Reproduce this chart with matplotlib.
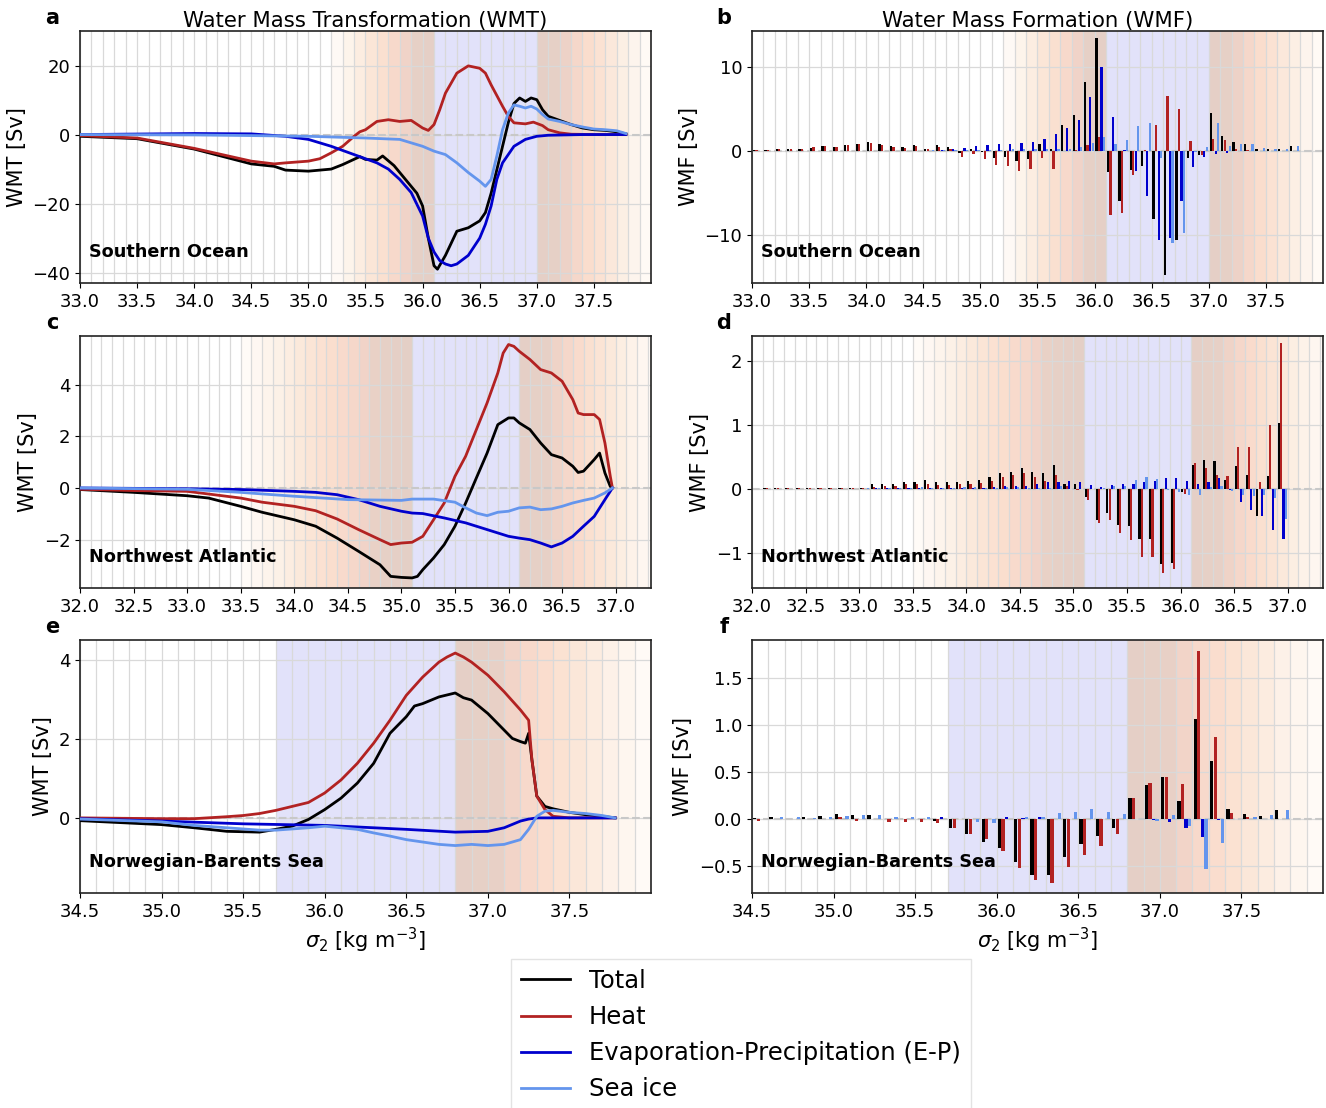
import numpy as np
import matplotlib
matplotlib.use("Agg")
import matplotlib.pyplot as plt
from matplotlib.lines import Line2D
from matplotlib.colors import LinearSegmentedColormap
from matplotlib.ticker import MultipleLocator

# ---------------- DATA ----------------
series_names = ["Total", "Heat", "Evaporation-Precipitation (E-P)", "Sea ice"]
series_colors = ["black", "firebrick", "mediumblue", "cornflowerblue"]
regions = ["Southern Ocean", "Northwest Atlantic", "Norwegian-Barents Sea"]

# --- Southern Ocean WMT curves ---
so_tot_x = [33.0, 33.5, 34.0, 34.5, 34.7, 34.8, 35.0, 35.2, 35.3, 35.45, 35.5, 35.6, 35.65, 35.75, 35.85,
            35.95, 36.0, 36.05, 36.1, 36.13, 36.2, 36.3, 36.4, 36.5, 36.55, 36.6, 36.7, 36.75, 36.8, 36.85,
            36.9, 36.95, 37.0, 37.05, 37.1, 37.2, 37.3, 37.4, 37.5, 37.6, 37.7, 37.78]
so_tot_y = [-0.5, -1.2, -4.2, -8.5, -9.2, -10.3, -10.6, -10.0, -8.7, -6.4, -7.2, -7.4, -6.2, -9.0, -13.0,
            -17.0, -20.7, -30.0, -38.0, -39.0, -35.0, -28.0, -27.0, -25.0, -22.6, -17.0, -3.4, 3.4, 9.0, 10.6,
            9.6, 10.6, 10.1, 7.2, 5.3, 4.1, 2.9, 1.9, 1.4, 1.2, 0.8, 0.2]
so_heat_x = [33.0, 33.5, 34.0, 34.5, 34.7, 34.8, 35.0, 35.1, 35.2, 35.3, 35.4, 35.45, 35.5, 35.6, 35.7,
             35.8, 35.9, 36.0, 36.05, 36.1, 36.15, 36.2, 36.3, 36.4, 36.5, 36.55, 36.6, 36.7, 36.75, 36.8,
             36.9, 36.97, 37.05, 37.1, 37.2, 37.3, 37.5, 37.78]
so_heat_y = [-0.3, -1.0, -4.0, -7.7, -8.5, -8.2, -7.7, -7.0, -5.3, -3.4, -0.5, 0.8, 1.4, 3.8, 4.3,
             3.8, 4.1, 1.9, 1.2, 2.9, 7.2, 12.0, 17.8, 19.9, 19.2, 17.8, 14.4, 8.2, 5.3, 3.4,
             3.1, 3.6, 2.6, 1.4, 0.5, 0.1, 0.0, 0.0]
so_ep_x = [33.0, 34.0, 34.5, 34.8, 35.0, 35.2, 35.4, 35.6, 35.7, 35.8, 35.9, 36.0, 36.05, 36.1, 36.15,
           36.2, 36.25, 36.3, 36.4, 36.5, 36.55, 36.6, 36.65, 36.7, 36.8, 36.9, 37.0, 37.1, 37.4, 37.78]
so_ep_y = [0.0, 0.3, 0.2, -0.5, -1.4, -3.4, -5.8, -8.2, -10.0, -13.0, -16.8, -23.6, -30.0, -34.0, -36.5,
           -37.5, -38.0, -37.5, -35.0, -30.0, -26.0, -20.7, -13.0, -8.2, -3.4, -1.4, -0.5, -0.2, 0.0, 0.0]
so_ice_x = [33.0, 34.0, 35.0, 35.5, 35.8, 36.0, 36.1, 36.2, 36.3, 36.4, 36.5, 36.55, 36.6, 36.65, 36.7,
            36.75, 36.8, 36.85, 36.9, 36.95, 37.0, 37.05, 37.1, 37.2, 37.3, 37.4, 37.5, 37.6, 37.7, 37.78]
so_ice_y = [0.0, -0.1, -0.5, -1.0, -1.4, -3.4, -4.8, -5.8, -8.2, -11.0, -13.5, -15.0, -13.0, -6.2, 1.4,
            6.2, 8.6, 8.2, 7.7, 8.2, 7.4, 5.8, 4.5, 3.8, 2.9, 2.2, 1.6, 1.4, 1.1, 0.3]

# --- Northwest Atlantic WMT curves ---
nwa_tot_x = [32.0, 32.5, 33.0, 33.2, 33.5, 33.7, 34.0, 34.2, 34.4, 34.6, 34.8, 34.9, 35.0, 35.1, 35.15,
             35.2, 35.3, 35.4, 35.5, 35.6, 35.7, 35.8, 35.9, 36.0, 36.05, 36.1, 36.2, 36.3, 36.4, 36.5,
             36.6, 36.65, 36.7, 36.8, 36.85, 36.9, 36.95, 36.97]
nwa_tot_y = [-0.06, -0.17, -0.30, -0.39, -0.71, -0.94, -1.23, -1.48, -1.94, -2.45, -2.97, -3.42, -3.46, -3.48, -3.42,
             -3.16, -2.71, -2.19, -1.48, -0.58, 0.39, 1.35, 2.45, 2.71, 2.71, 2.52, 2.26, 1.74, 1.29, 1.16,
             0.84, 0.60, 0.65, 1.10, 1.35, 0.58, 0.06, 0.0]
nwa_heat_x = [32.0, 32.5, 33.0, 33.5, 33.7, 34.0, 34.2, 34.4, 34.6, 34.8, 34.9, 35.0, 35.1, 35.2, 35.3,
              35.4, 35.5, 35.6, 35.7, 35.8, 35.9, 35.95, 36.0, 36.05, 36.1, 36.2, 36.3, 36.4, 36.5, 36.6,
              36.65, 36.7, 36.8, 36.85, 36.9, 36.95, 36.97]
nwa_heat_y = [-0.05, -0.10, -0.13, -0.39, -0.55, -0.71, -0.88, -1.20, -1.61, -2.00, -2.19, -2.13, -2.10, -1.87, -1.23,
              -0.58, 0.45, 1.23, 2.26, 3.29, 4.45, 5.22, 5.55, 5.48, 5.29, 4.97, 4.58, 4.45, 4.13, 3.42,
              2.90, 2.84, 2.84, 2.65, 1.74, 0.45, 0.0]
nwa_ep_x = [32.0, 33.0, 33.5, 34.0, 34.2, 34.4, 34.6, 34.8, 35.0, 35.1, 35.2, 35.4, 35.6, 35.8, 36.0,
            36.1, 36.2, 36.3, 36.4, 36.5, 36.6, 36.7, 36.8, 36.9, 36.97]
nwa_ep_y = [0.0, -0.03, -0.06, -0.13, -0.17, -0.26, -0.45, -0.71, -0.90, -0.97, -0.99, -1.16, -1.35, -1.61, -1.87,
            -1.94, -2.00, -2.13, -2.28, -2.13, -1.87, -1.48, -1.10, -0.45, 0.0]
nwa_ice_x = [32.0, 33.0, 33.5, 34.0, 34.5, 35.0, 35.1, 35.3, 35.5, 35.6, 35.7, 35.8, 35.9, 36.0, 36.1,
             36.2, 36.3, 36.4, 36.5, 36.6, 36.7, 36.8, 36.9, 36.97]
nwa_ice_y = [0.0, -0.05, -0.17, -0.32, -0.45, -0.48, -0.43, -0.43, -0.55, -0.77, -0.97, -1.07, -0.94, -0.90, -0.77,
             -0.74, -0.84, -0.81, -0.71, -0.58, -0.48, -0.39, -0.19, 0.0]

# --- Norwegian-Barents Sea WMT curves ---
nbs_tot_x = [34.5, 35.0, 35.2, 35.4, 35.6, 35.7, 35.8, 35.9, 36.0, 36.1, 36.2, 36.3, 36.4, 36.5, 36.55,
             36.6, 36.7, 36.8, 36.85, 36.9, 37.0, 37.1, 37.15, 37.2, 37.23, 37.25, 37.27, 37.3, 37.35, 37.4,
             37.5, 37.6, 37.7, 37.78]
nbs_tot_y = [-0.07, -0.17, -0.25, -0.34, -0.36, -0.29, -0.21, -0.04, 0.21, 0.50, 0.88, 1.38, 2.14, 2.56, 2.83,
             2.89, 3.06, 3.16, 3.04, 2.98, 2.64, 2.22, 2.01, 1.93, 1.89, 2.14, 1.47, 0.55, 0.29, 0.23,
             0.14, 0.08, 0.04, 0.0]
nbs_heat_x = [34.5, 35.0, 35.2, 35.4, 35.5, 35.6, 35.7, 35.8, 35.9, 36.0, 36.1, 36.2, 36.3, 36.4, 36.5,
              36.6, 36.7, 36.75, 36.8, 36.85, 36.9, 37.0, 37.1, 37.2, 37.25, 37.27, 37.3, 37.35, 37.4, 37.5,
              37.78]
nbs_heat_y = [0.0, -0.02, -0.02, 0.03, 0.06, 0.11, 0.19, 0.29, 0.39, 0.63, 0.96, 1.38, 1.89, 2.47, 3.10,
              3.56, 3.94, 4.07, 4.17, 4.07, 3.94, 3.61, 3.19, 2.73, 2.47, 1.47, 0.55, 0.21, 0.04, 0.0,
              0.0]
nbs_ep_x = [34.5, 35.0, 35.5, 36.0, 36.5, 36.8, 37.0, 37.1, 37.2, 37.25, 37.3, 37.78]
nbs_ep_y = [-0.02, -0.08, -0.15, -0.19, -0.29, -0.36, -0.34, -0.25, -0.08, -0.03, 0.0, 0.0]
nbs_ice_x = [34.5, 35.0, 35.2, 35.4, 35.6, 35.7, 35.8, 35.9, 36.0, 36.1, 36.2, 36.3, 36.4, 36.5, 36.6,
             36.7, 36.8, 36.9, 37.0, 37.1, 37.2, 37.25, 37.3, 37.35, 37.4, 37.5, 37.6, 37.7, 37.78]
nbs_ice_y = [-0.03, -0.10, -0.19, -0.25, -0.31, -0.31, -0.28, -0.25, -0.21, -0.25, -0.29, -0.38, -0.46, -0.55, -0.61,
             -0.67, -0.70, -0.67, -0.70, -0.67, -0.55, -0.29, 0.04, 0.17, 0.19, 0.14, 0.11, 0.06, 0.0]

# --- WMF bars (bin left edges, bin width 0.1) ---
so_bins = [33.0, 33.1, 33.2, 33.3, 33.4, 33.5, 33.6, 33.7, 33.8, 33.9, 34.0, 34.1, 34.2, 34.3, 34.4, 34.5,
           34.6, 34.7, 34.8, 34.9, 35.0, 35.1, 35.2, 35.3, 35.4, 35.5, 35.6, 35.7, 35.8, 35.9, 36.0, 36.1,
           36.2, 36.3, 36.4, 36.5, 36.6, 36.7, 36.8, 36.9, 37.0, 37.1, 37.2, 37.3, 37.4, 37.5, 37.6, 37.7]
so_wmf_tot = [0.1, 0.1, 0.2, 0.25, 0.3, 0.4, 0.6, 0.5, 0.7, 0.8, 1.1, 0.8, 0.6, 0.5, 0.7, 0.3,
              0.7, 0.5, -0.2, 0.3, -0.1, -0.8, -0.7, -1.2, -0.9, 0.9, 0.2, 3.1, 4.3, 8.2, 13.5, -2.5,
              -5.9, -2.2, -1.8, -8.1, -14.7, -10.6, -0.8, -0.5, 4.5, 1.8, 1.1, 0.8, 0.3, 0.3, 0.3, 0.6]
so_wmf_heat = [0.1, 0.1, 0.2, 0.2, 0.3, 0.45, 0.6, 0.5, 0.7, 0.8, 1.0, 0.7, 0.5, 0.4, 0.6, 0.2,
               0.5, 0.3, -0.7, -0.3, -0.9, -1.7, -1.8, -2.4, -2.1, -0.8, -2.1, 0.0, 0.1, 0.7, 1.7, -7.6,
               -7.4, -2.8, 0.1, 3.1, 6.6, 5.0, 1.2, -0.5, 1.5, 1.3, 0.3, 0.1, 0.0, 0.0, 0.0, 0.0]
so_wmf_ep = [0.0, 0.0, 0.0, 0.0, 0.0, 0.0, 0.0, 0.0, 0.0, 0.0, 0.0, 0.0, 0.0, 0.0, 0.0, 0.0,
             0.1, 0.2, 0.4, 0.6, 0.7, 0.8, 0.9, 1.0, 1.1, 1.5, 2.0, 2.8, 3.7, 6.4, 10.0, 4.1,
             0.1, -2.4, -5.4, -10.6, -10.3, -5.9, -1.9, -0.7, -0.3, -0.2, 0.0, 0.0, 0.0, 0.0, 0.0, 0.0]
so_wmf_ice = [0.05, 0.0, 0.0, 0.0, 0.0, 0.0, 0.0, 0.0, 0.0, 0.0, 0.0, 0.0, 0.0, 0.0, 0.0, 0.1,
              0.1, 0.1, 0.1, 0.1, 0.1, 0.1, 0.2, 0.2, 0.2, 0.2, 0.3, 0.3, 0.5, 1.0, 1.7, 0.9,
              1.3, 3.0, 3.4, -0.8, -10.9, -9.8, -0.1, 0.5, 3.3, 0.6, 0.8, 0.8, 0.4, 0.3, 0.3, 0.6]

nwa_bins = [32.0, 32.1, 32.2, 32.3, 32.4, 32.5, 32.6, 32.7, 32.8, 32.9, 33.0, 33.1, 33.2, 33.3, 33.4, 33.5,
            33.6, 33.7, 33.8, 33.9, 34.0, 34.1, 34.2, 34.3, 34.4, 34.5, 34.6, 34.7, 34.8, 34.9, 35.0, 35.1,
            35.2, 35.3, 35.4, 35.5, 35.6, 35.7, 35.8, 35.9, 36.0, 36.1, 36.2, 36.3, 36.4, 36.5, 36.6, 36.7,
            36.8, 36.9]
nwa_wmf_tot = [0.0, 0.01, 0.01, 0.02, 0.02, 0.02, 0.01, 0.02, 0.01, 0.02, 0.02, 0.07, 0.08, 0.08, 0.11, 0.11,
               0.14, 0.10, 0.10, 0.11, 0.12, 0.14, 0.18, 0.25, 0.27, 0.32, 0.27, 0.25, 0.37, 0.08, 0.08, -0.13,
               -0.48, -0.37, -0.56, -0.58, -0.78, -0.79, -1.17, -1.16, -0.05, 0.38, 0.45, 0.44, 0.14, 0.35, 0.22, -0.43,
               0.20, 1.03]
nwa_wmf_heat = [0.0, 0.01, 0.01, 0.02, 0.02, 0.02, 0.01, 0.02, 0.01, 0.01, 0.01, 0.03, 0.04, 0.05, 0.07, 0.07,
                0.07, 0.06, 0.06, 0.07, 0.07, 0.09, 0.13, 0.18, 0.21, 0.25, 0.18, 0.13, 0.22, 0.05, -0.02, -0.18,
                -0.53, -0.48, -0.69, -0.80, -1.06, -1.06, -1.32, -1.26, -0.08, 0.40, 0.32, 0.22, 0.20, 0.65, 0.66, 0.10,
                1.00, 2.28]
nwa_wmf_ep = [0.0, 0.0, 0.0, 0.0, 0.0, 0.0, 0.0, 0.0, 0.0, 0.0, 0.0, 0.01, 0.01, 0.01, 0.01, 0.02,
              0.02, 0.02, 0.02, 0.02, 0.02, 0.02, 0.03, 0.04, 0.04, 0.05, 0.08, 0.10, 0.10, 0.12, 0.10, 0.06,
              0.03, 0.06, 0.08, 0.08, 0.10, 0.12, 0.17, 0.17, 0.12, 0.07, 0.10, 0.17, -0.02, -0.20, -0.33, -0.43,
              -0.65, -0.78]
nwa_wmf_ice = [0.0, 0.0, 0.0, 0.0, 0.0, 0.0, 0.0, 0.0, 0.0, 0.0, 0.01, 0.02, 0.02, 0.02, 0.02, 0.03,
               0.02, 0.02, 0.02, 0.03, 0.03, 0.02, 0.02, 0.03, 0.03, 0.02, 0.02, 0.02, 0.05, 0.0, 0.0, 0.0,
               0.02, 0.05, 0.05, 0.14, 0.18, 0.16, -0.02, -0.05, -0.10, -0.10, 0.03, 0.05, -0.04, -0.10, -0.11, -0.10,
               -0.15, -0.47]

nbs_bins = [34.5, 34.6, 34.7, 34.8, 34.9, 35.0, 35.1, 35.2, 35.3, 35.4, 35.5, 35.6, 35.7, 35.8, 35.9, 36.0,
            36.1, 36.2, 36.3, 36.4, 36.5, 36.6, 36.7, 36.8, 36.9, 37.0, 37.1, 37.2, 37.3, 37.4, 37.5, 37.6,
            37.7]
nbs_wmf_tot = [0.01, 0.02, 0.0, 0.02, 0.03, 0.05, 0.04, 0.04, 0.0, 0.0, 0.0, -0.02, -0.10, -0.16, -0.25, -0.31,
               -0.46, -0.60, -0.60, -0.41, -0.27, -0.18, -0.10, 0.22, 0.36, 0.44, 0.19, 1.06, 0.61, 0.10, 0.05, 0.03,
               0.09]
nbs_wmf_heat = [-0.02, 0.0, 0.0, 0.0, 0.0, 0.02, -0.02, 0.0, -0.03, -0.03, -0.04, -0.05, -0.10, -0.16, -0.22, -0.34,
                -0.52, -0.65, -0.68, -0.51, -0.39, -0.29, -0.16, 0.22, 0.38, 0.44, 0.37, 1.78, 0.87, 0.06, 0.02, 0.0,
                0.0]
nbs_wmf_ep = [0.0, 0.0, 0.0, 0.0, 0.0, 0.0, 0.0, 0.0, 0.0, 0.0, 0.0, 0.02, 0.0, 0.0, 0.0, 0.02,
              0.01, 0.02, 0.0, 0.0, 0.0, 0.0, 0.0, 0.0, -0.01, -0.04, -0.10, -0.19, -0.01, 0.0, 0.0, 0.0,
              0.0]
nbs_wmf_ice = [0.0, 0.02, 0.02, 0.01, 0.02, 0.03, 0.04, 0.04, 0.02, 0.02, 0.02, 0.0, 0.0, -0.03, -0.05, 0.0,
               0.02, 0.02, 0.06, 0.07, 0.10, 0.07, 0.05, 0.0, -0.02, 0.04, -0.08, -0.53, -0.26, 0.0, 0.02, 0.04,
               0.09]

# shading bands (lower-shading start, blue band lo, blue band hi, upper-shading end)
so_band = (35.2, 36.1, 37.0, 38.0)
nwa_band = (33.5, 35.1, 36.1, 37.33)
nbs_band = (None, 35.7, 36.8, 38.0)

# ---------------- STYLE / LAYOUT ----------------
plt.rcParams['font.family'] = ['DejaVu Sans']
fig = plt.figure(figsize=(13.26, 11.08), dpi=100)
W, H = 1326, 1108

def axes_px(x0, y0, x1, y1):
    return fig.add_axes([x0 / W, 1 - y1 / H, (x1 - x0) / W, (y1 - y0) / H])

rows = [(31, 283), (336, 588), (640, 893)]
cols = [(80, 651), (752, 1323)]
axs = [[axes_px(c[0], r[0], c[1], r[1]) for c in cols] for r in rows]

shade_cmap = LinearSegmentedColormap.from_list(
    "shade",
    [(0.0, (228/255, 207/255, 198/255)),
     (0.2, (231/255, 208/255, 198/255)),
     (0.3, (243/255, 212/255, 200/255)),
     (0.45, (250/255, 221/255, 205/255)),
     (0.6, (251/255, 229/255, 214/255)),
     (0.75, (252/255, 239/255, 228/255)),
     (0.9, (254/255, 247/255, 241/255)),
     (1.0, (255/255, 252/255, 249/255))])

def shade(ax, band):
    s0, lo, hi, s1 = band
    ax.axvspan(lo, hi, color=(226/255, 226/255, 250/255), lw=0, zorder=0.2)
    if s0 is not None:
        n = int(round((lo - s0) / 0.1))
        for i in range(n):
            a = lo - (i + 1) * 0.1
            t = (i + 0.5) / n
            ax.axvspan(a, a + 0.1, color=shade_cmap(t), lw=0, zorder=0.2)
    n = int(np.ceil((s1 - hi) / 0.1 - 1e-6))
    for i in range(n):
        a = hi + i * 0.1
        t = (i + 0.5) / n
        ax.axvspan(a, min(a + 0.1, s1), color=shade_cmap(t), lw=0, zorder=0.2)

def style(ax, xlim, xticks, ylim, yticks):
    ax.set_xlim(*xlim)
    ax.set_ylim(*ylim)
    ax.set_xticks(xticks)
    ax.set_xticklabels([f"{v:.1f}" for v in xticks])
    ax.set_yticks(yticks)
    ax.xaxis.set_minor_locator(MultipleLocator(0.1))
    ax.tick_params(axis='x', which='minor', length=0)
    ax.tick_params(labelsize=13)
    ax.set_axisbelow(True)
    ax.grid(axis='x', which='both', color='#d9d9d9', lw=0.9, zorder=0.5)
    ax.grid(axis='y', which='major', color='#d9d9d9', lw=0.9, zorder=0.5)
    ax.axhline(0, color='#c8c8c8', ls='--', lw=1.5, zorder=0.6)
    for sp in ax.spines.values():
        sp.set_linewidth(1.2)
        sp.set_color('#222222')

line_sets = [
    [(so_tot_x, so_tot_y), (so_heat_x, so_heat_y), (so_ep_x, so_ep_y), (so_ice_x, so_ice_y)],
    [(nwa_tot_x, nwa_tot_y), (nwa_heat_x, nwa_heat_y), (nwa_ep_x, nwa_ep_y), (nwa_ice_x, nwa_ice_y)],
    [(nbs_tot_x, nbs_tot_y), (nbs_heat_x, nbs_heat_y), (nbs_ep_x, nbs_ep_y), (nbs_ice_x, nbs_ice_y)],
]
bar_sets = [
    (so_bins, [so_wmf_tot, so_wmf_heat, so_wmf_ep, so_wmf_ice]),
    (nwa_bins, [nwa_wmf_tot, nwa_wmf_heat, nwa_wmf_ep, nwa_wmf_ice]),
    (nbs_bins, [nbs_wmf_tot, nbs_wmf_heat, nbs_wmf_ep, nbs_wmf_ice]),
]
bands = [so_band, nwa_band, nbs_band]
xlims = [(33.0, 38.0), (32.0, 37.33), (34.5, 38.0)]
xticks_l = [np.arange(33.0, 37.51, 0.5), np.arange(32.0, 37.01, 0.5), np.arange(34.5, 37.51, 0.5)]
ylims_wmt = [(-43, 30), (-3.87, 5.88), (-1.9, 4.5)]
yticks_wmt = [[-40, -20, 0, 20], [-2, 0, 2, 4], [0, 2, 4]]
ylims_wmf = [(-15.7, 14.3), (-1.55, 2.39), (-0.79, 1.9)]
yticks_wmf = [[-10, 0, 10], [-1, 0, 1, 2], [-0.5, 0.0, 0.5, 1.0, 1.5]]
letters = [["a", "b"], ["c", "d"], ["e", "f"]]

for r in range(3):
    axl, axr = axs[r]
    # WMT lines
    shade(axl, bands[r])
    for (xs, ys), c in zip(line_sets[r], series_colors):
        axl.plot(xs, ys, color=c, lw=2.0, zorder=3)
    style(axl, xlims[r], xticks_l[r], ylims_wmt[r], yticks_wmt[r])
    axl.set_ylabel("WMT [Sv]", fontsize=15)
    if r == 2:
        axl.set_yticklabels(["0", "2", "4"])
    # WMF bars
    shade(axr, bands[r])
    bins = np.array(bar_sets[r][0])
    for k, (vals, c) in enumerate(zip(bar_sets[r][1], series_colors)):
        axr.bar(bins + 0.05 + (k - 1.5) * 0.022, vals, width=0.02, color=c, zorder=3, lw=0)
    style(axr, xlims[r], xticks_l[r], ylims_wmf[r], yticks_wmf[r])
    axr.set_ylabel("WMF [Sv]", fontsize=15)
    if r == 2:
        axr.set_yticklabels(["\u22120.5", "0.0", "0.5", "1.0", "1.5"])
    for ax, let in zip((axl, axr), letters[r]):
        ax.text(-0.049, 1.012, let, transform=ax.transAxes, fontsize=15,
                fontweight='bold', ha='center', va='bottom')
        ax.text(0.016, 0.122, regions[r], transform=ax.transAxes, fontsize=12.7,
                fontweight='bold', va='center', ha='left', zorder=5)
        if r == 2:
            ax.set_xlabel(r"$\sigma_2$ [kg m$^{-3}$]", fontsize=15)

axs[0][0].set_title("Water Mass Transformation (WMT)", fontsize=15.3, pad=3)
axs[0][1].set_title("Water Mass Formation (WMF)", fontsize=15.3, pad=3)

handles = [Line2D([0], [0], color=c, lw=2) for c in series_colors]
fig.legend(handles, series_names, loc='upper center', bbox_to_anchor=(741 / W, 1 - 947 / H),
           fontsize=17.5, handlelength=2.0, frameon=True, fancybox=False, edgecolor='#dddddd',
           borderpad=0.4, labelspacing=0.5, handletextpad=0.8)

fig.savefig("out.png", dpi=100)
